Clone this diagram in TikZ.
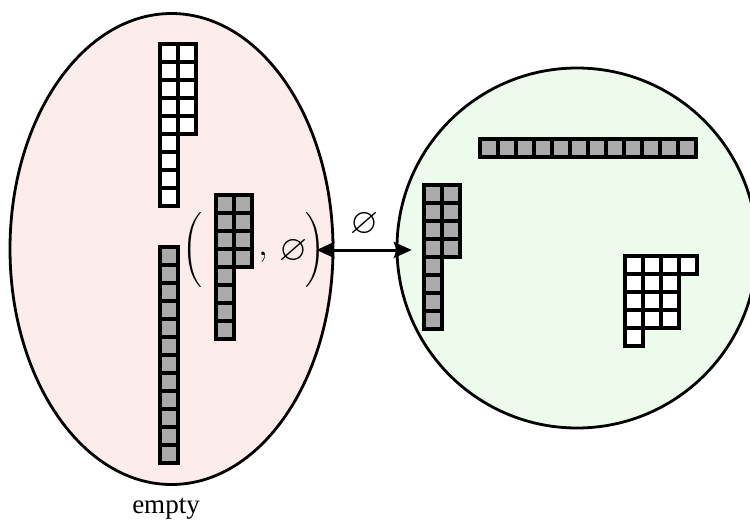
\RequirePackage{fix-cm}
\documentclass[tikz,border=0pt]{standalone}
\usepackage{amssymb}
\usepackage{fontspec}
\setmainfont{Liberation Serif}
\usetikzlibrary{
  shapes.geometric, % For the ellipse
  arrows.meta % For arrow tips
}

\definecolor{pinkfill}{RGB}{253,236,236}
\definecolor{greenfill}{RGB}{236,251,235}
\definecolor{boxgray}{RGB}{170,170,170}

% Young-Diagramm: Ecke x, Ecke y, Zeilenlaengen, Fuellung
\newcommand{\youngdiag}[4]{%
  \foreach \len [count=\rw from 0] in {#3}
    \foreach \cl in {1,...,\len}
      \draw[cell, fill=#4] ({#1+(\cl-1)*18}, {#2+\rw*18}) rectangle ++(18,18);
}

\begin{document}
\begin{tikzpicture}[
      x=1pt, y=-1pt, % Pixel-Koordinaten, y nach unten
      font=\fontsize{25}{30}\selectfont,
      >=Stealth, % Default arrow tip
      cell/.style={line width=4pt, draw=black}, % Kaestchen
      blob/.style={draw=black, line width=2.8pt, inner sep=0}, % Mengen
      sym/.style={inner sep=0, font=\fontsize{36}{43}\selectfont}, % grosse Zeichen
      link/.style={line width=3pt, <->, >={Stealth[length=18pt, width=16pt, inset=3pt]}},
    ]
    \useasboundingbox (0,0) rectangle (750,523);

    % Mengen
    \node[blob, ellipse, fill=pinkfill, minimum width=323pt, minimum height=471pt] (lhs) at (171.5,249) {};
    \node[blob, circle, fill=greenfill, minimum size=360pt] (rhs) at (577,248) {};
    \node[anchor=base, font=\fontsize{27}{32}\selectfont] (name) at (166,513) {empty};

    % Diagramme links
    \youngdiag{160.3}{44.3}{2,2,2,2,2,1,1,1,1}{white}
    \youngdiag{160.3}{247}{1,1,1,1,1,1,1,1,1,1,1,1}{boxgray}

    % Paar
    \youngdiag{216.3}{194.7}{2,2,2,2,1,1,1,1}{boxgray}
    \node[inner sep=0] (lpar) at (193,250) {$\left(\vcenter to 76pt{}\right.$};
    \node[sym, anchor=base] (comma) at (263,255) {$,$};
    \node[sym] (nil) at (293,251.7) {$\varnothing$};
    \node[inner sep=0, outer xsep=-9pt] (rpar) at (315,250) {$\left.\vcenter to 76pt{}\right)$};

    % Diagramme rechts
    \youngdiag{479.7}{139.3}{12}{boxgray}
    \youngdiag{423.7}{185.3}{2,2,2,2,1,1,1,1}{boxgray}
    \youngdiag{624.7}{256}{4,3,3,3,1}{white}
    \node[inner sep=0, outer sep=12pt, minimum width=36pt, minimum height=144pt] (lam) at (441.7,257.3) {};

    % Pfeil
    \draw[link] (rpar.east) -- (rpar.east -| lam.west)
    node[midway, above=12pt, sym] (lbl) {$\varnothing$};
  \end{tikzpicture}
\end{document}
